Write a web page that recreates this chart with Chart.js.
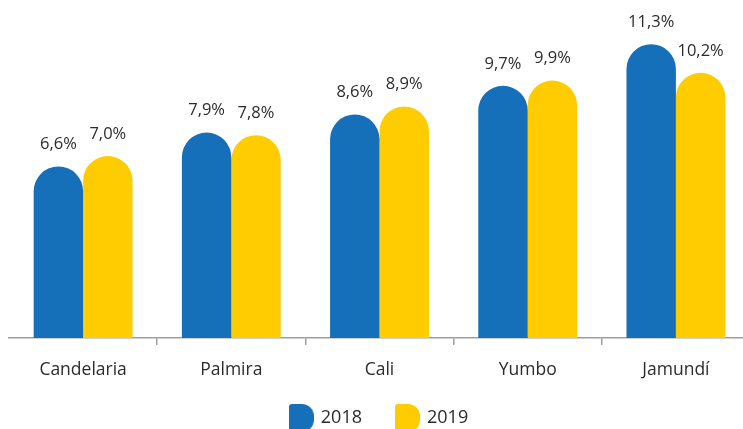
<!DOCTYPE html>
<html>
<head>
<meta charset="utf-8">
<script src="https://cdn.jsdelivr.net/npm/chart.js@4/dist/chart.umd.min.js"></script>
<style>
  html, body { margin: 0; padding: 0; background: #fff; overflow: hidden; }
  #wrap { width: 760px; height: 429px; }
</style>
</head>
<body>
<div id="wrap"><canvas id="chart" width="760" height="429"></canvas></div>
<script>
const categories = ['Candelaria', 'Palmira', 'Cali', 'Yumbo', 'Jamundí'];
const values2018 = [6.6, 7.9, 8.6, 9.7, 11.3];
const values2019 = [7.0, 7.8, 8.9, 9.9, 10.2];
const seriesLabels = ['2018', '2019'];

const blue = '#1670b9';
const yellow = '#fecc00';

Chart.defaults.font.family = "'Open Sans', sans-serif";
Chart.defaults.color = '#2b2b2b';

// forme de la pastille de légende (bord gauche droit, côté droit arrondi)
function marker(color) {
    const c = document.createElement('canvas');
    c.width = 25;
    c.height = 28;
    const g = c.getContext('2d');
    g.fillStyle = color;
    g.beginPath();
    g.roundRect(0, 0, 25, 28, [3, 12, 12, 0]);
    g.fill();
    return c;
}

const valueLabels = {
    id: 'valueLabels',
    afterDatasetsDraw(chart) {
        const ctx = chart.ctx;
        ctx.save();
        ctx.font = "16.5px 'Open Sans', sans-serif";
        ctx.fillStyle = '#2b2b2b';
        ctx.textAlign = 'center';
        ctx.textBaseline = 'middle';
        chart.data.datasets.forEach((ds, i) => {
            chart.getDatasetMeta(i).data.forEach((bar, j) => {
                const txt = ds.data[j].toFixed(1).replace('.', ',') + '%';
                ctx.fillText(txt, bar.x, bar.y - 22);
            });
        });
        ctx.restore();
    }
};

// agrandit la boîte de la légende vers le haut pour remonter les items
const legendShift = {
    id: 'legendShift',
    afterLayout(chart) {
        chart.legend.top = 374;
    }
};

const radius = {topLeft: 40, topRight: 40, bottomLeft: 0, bottomRight: 0};

new Chart(document.getElementById('chart'), {
    type: 'bar',
    data: {
        labels: categories,
        datasets: [
            {label: seriesLabels[0], data: values2018, backgroundColor: blue, borderRadius: radius, borderSkipped: false, pointStyle: marker(blue)},
            {label: seriesLabels[1], data: values2019, backgroundColor: yellow, borderRadius: radius, borderSkipped: false, pointStyle: marker(yellow)}
        ]
    },
    options: {
        responsive: false,
        animation: false,
        events: [],
        devicePixelRatio: 1,
        layout: {padding: {left: 9, right: 10, top: 0, bottom: 0}},
        datasets: {bar: {categoryPercentage: 0.667, barPercentage: 1}},
        plugins: {
            tooltip: {enabled: false},
            legend: {
                position: 'bottom',
                maxHeight: 49,
                labels: {
                    usePointStyle: true,
                    pointStyleWidth: 21,
                    padding: 35,
                    color: '#2b2b2b',
                    font: {size: 18}
                }
            }
        },
        scales: {
            x: {
                afterFit: (scale) => { scale.height = 42; },
                grid: {
                    display: true,
                    drawOnChartArea: false,
                    drawTicks: true,
                    tickLength: 7,
                    lineWidth: 1.5,
                    color: (ctx) => ctx.index === 0 ? 'rgba(0,0,0,0)' : '#9e9e9e'
                },
                border: {display: true, color: '#9e9e9e', width: 1.5},
                ticks: {padding: 14.5, font: {size: 17.5}, color: '#2b2b2b'}
            },
            y: {
                display: false,
                min: 0,
                max: 13
            }
        }
    },
    plugins: [valueLabels, legendShift]
});
</script>
</body>
</html>
